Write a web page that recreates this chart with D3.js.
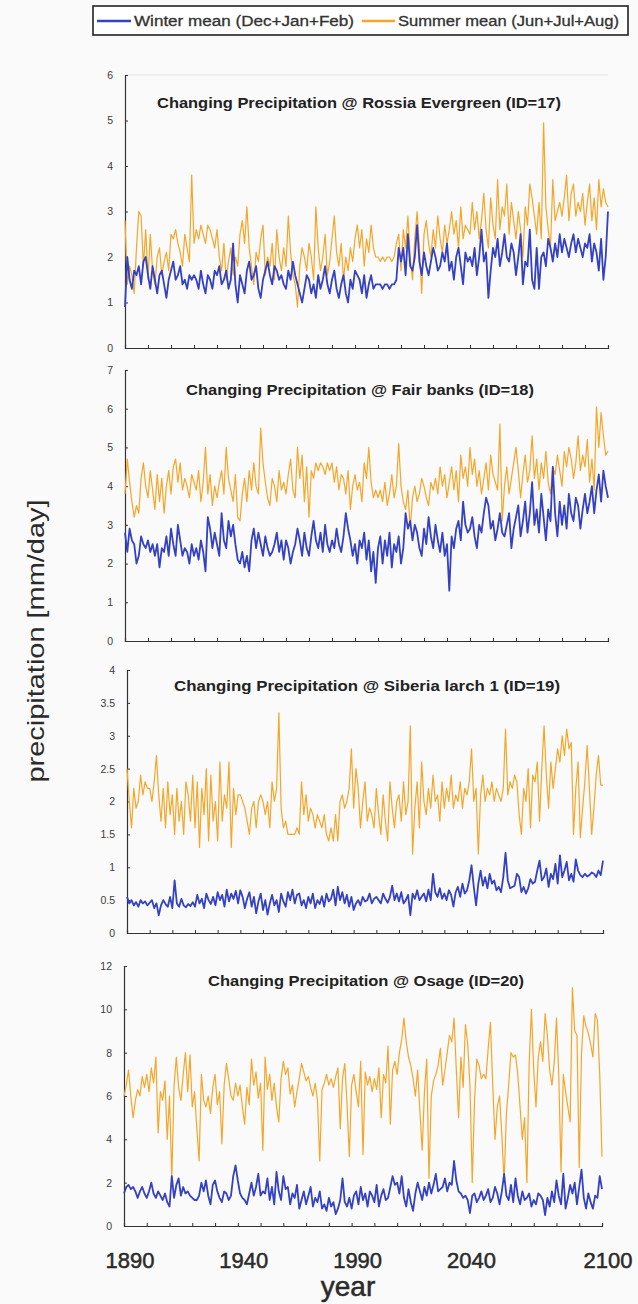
<!DOCTYPE html>
<html>
<head>
<meta charset="utf-8">
<script src="https://cdn.jsdelivr.net/npm/d3@7"></script>
<style>
    body { margin: 0; background: #fafafa; }
    svg { display: block; font-family: "Liberation Sans", Arial, sans-serif; }
    .tick text { fill: #3a3a3a; font-size: 10.5px; }
    .domain, .tick line { stroke: #333; }
</style>
</head>
<body>
<div id="chart"></div>
<script>
// categories
var years = d3.range(1890, 2101);
var yearLabels = [1890, 1940, 1990, 2040, 2100];
var titles = [
    "Changing Precipitation @ Rossia Evergreen (ID=17)",
    "Changing Precipitation @ Fair banks (ID=18)",
    "Changing Precipitation @ Siberia larch  1 (ID=19)",
    "Changing Precipitation @ Osage (ID=20)"
];
var yMaxes = [6, 7, 4, 12];
var yTickSteps = [1, 1, 0.5, 2];

// Winter mean (Dec+Jan+Feb), one value a year 1890..2100
var winter17 = [
    0.9,2.0,1.5,1.3,1.7,1.6,1.8,1.4,1.9,2.0,
    1.6,1.3,1.8,1.5,1.2,1.6,1.7,1.4,1.1,1.5,
    1.7,1.9,1.5,1.6,1.8,1.4,1.5,1.3,1.6,1.5,
    1.6,1.5,1.3,1.7,1.4,1.2,1.6,1.5,1.3,1.7,
    1.6,1.8,1.4,1.5,1.7,1.3,1.5,2.3,1.4,1.0,
    1.6,1.4,1.2,1.7,1.9,1.5,1.6,1.8,1.3,1.1,
    1.5,1.7,1.9,1.6,1.4,1.8,1.7,1.5,1.6,1.4,
    1.3,1.7,1.5,1.9,1.6,1.4,1.2,1.0,1.3,1.6,
    1.5,1.2,1.4,1.1,1.6,1.3,1.5,1.8,1.4,1.2,
    1.5,1.7,1.3,1.1,1.4,1.6,1.2,1.0,1.5,1.3,
    1.7,1.6,1.5,1.2,1.6,1.1,1.4,1.6,1.3,1.4,
    1.4,1.4,1.3,1.4,1.4,1.3,1.4,1.4,1.5,2.2,
    1.9,2.2,1.6,2.5,1.8,1.7,2.0,2.7,1.9,1.6,
    2.1,1.8,1.6,1.9,2.2,2.0,1.7,1.8,2.1,1.9,
    2.3,1.7,1.9,1.5,2.0,2.2,1.8,1.4,2.1,1.9,
    2.0,1.8,2.2,1.6,2.0,2.6,1.9,2.1,1.1,1.7,
    2.2,2.0,2.4,1.8,2.1,2.5,2.0,1.9,2.3,2.1,
    1.6,2.0,2.5,1.4,1.9,1.8,2.6,1.5,1.3,2.2,
    1.3,2.0,2.1,1.8,2.4,2.2,1.9,2.3,2.0,2.5,
    2.1,2.4,2.2,2.0,2.3,2.5,2.1,2.4,2.2,2.0,
    2.3,2.2,2.5,1.9,2.3,2.1,1.7,2.4,1.5,2.0,
    3.0
];
var winter18 = [
    2.8,2.3,2.9,2.6,2.5,2.0,2.2,2.7,2.5,2.4,
    2.6,2.3,2.5,2.2,2.5,1.9,2.4,2.3,2.7,2.2,
    2.9,2.5,2.2,3.0,2.6,2.2,2.4,2.3,2.0,2.5,
    2.2,2.4,2.1,2.6,2.3,1.8,3.2,2.9,2.4,2.8,
    2.5,2.2,3.3,2.6,2.4,3.1,2.7,3.0,2.5,2.1,
    2.0,2.3,1.9,2.2,1.8,2.6,2.9,2.4,2.8,2.5,
    2.2,2.7,2.4,2.2,2.3,2.5,2.8,2.3,2.6,2.1,
    2.6,2.4,2.0,2.3,2.5,2.9,2.6,2.2,2.8,2.4,
    2.2,2.7,3.1,2.6,2.4,2.8,2.3,3.0,2.5,2.3,
    2.6,2.4,2.9,2.5,2.3,2.7,3.3,2.9,2.6,2.2,
    2.5,2.0,2.6,2.4,2.8,2.1,2.6,1.8,2.3,1.5,
    2.4,2.7,2.0,2.6,2.2,2.8,1.9,2.5,2.3,2.7,
    2.0,2.4,3.3,2.9,3.1,2.6,3.0,2.8,2.4,2.2,
    2.9,2.5,3.2,2.7,2.4,3.0,2.6,2.3,2.8,2.2,
    2.5,1.3,2.7,2.4,2.9,3.1,2.6,3.6,3.0,2.8,
    2.9,3.2,2.7,2.4,3.0,2.8,3.3,3.7,3.5,2.9,
    3.1,2.6,2.9,3.3,2.8,2.7,3.0,3.3,2.4,2.9,
    3.2,3.5,2.7,3.1,3.6,2.8,3.3,4.1,3.0,3.4,
    2.8,3.8,3.2,2.6,3.4,3.1,4.5,3.3,2.7,3.6,
    3.0,3.5,2.9,3.8,3.3,3.1,3.7,3.5,2.9,3.4,
    3.8,3.3,3.6,4.0,3.3,3.9,4.3,3.6,4.4,4.0,
    3.7
];
var winter19 = [
    0.55,0.45,0.5,0.42,0.47,0.4,0.5,0.45,0.48,0.42,
    0.46,0.5,0.38,0.45,0.27,0.42,0.5,0.44,0.4,0.55,
    0.38,0.8,0.45,0.4,0.52,0.42,0.39,0.44,0.41,0.47,
    0.4,0.58,0.45,0.52,0.38,0.6,0.5,0.44,0.55,0.42,
    0.62,0.5,0.58,0.4,0.66,0.48,0.6,0.52,0.64,0.45,
    0.65,0.55,0.38,0.52,0.62,0.4,0.55,0.3,0.48,0.6,
    0.35,0.5,0.28,0.45,0.58,0.42,0.5,0.32,0.6,0.48,
    0.4,0.62,0.5,0.66,0.45,0.58,0.6,0.42,0.5,0.38,
    0.55,0.45,0.6,0.38,0.5,0.44,0.56,0.4,0.6,0.48,
    0.52,0.66,0.42,0.7,0.5,0.62,0.45,0.58,0.4,0.55,
    0.35,0.45,0.5,0.42,0.55,0.48,0.5,0.6,0.45,0.52,
    0.55,0.5,0.45,0.6,0.52,0.46,0.55,0.72,0.5,0.6,
    0.48,0.62,0.45,0.5,0.58,0.27,0.6,0.52,0.65,0.5,
    0.55,0.6,0.48,0.66,0.5,0.9,0.62,0.55,0.68,0.52,
    0.6,0.5,0.65,0.58,0.4,0.62,0.7,0.55,0.75,0.6,
    0.65,0.8,1.03,0.7,0.42,0.75,0.95,0.72,0.85,0.68,
    0.9,0.75,0.8,0.65,0.7,0.62,0.85,1.22,0.8,0.68,
    0.7,0.72,0.9,0.85,0.62,0.7,0.6,0.68,0.82,0.75,
    0.78,0.95,1.1,0.8,0.85,0.98,0.7,0.9,0.82,1.05,
    0.75,1.18,0.85,0.95,1.08,0.8,0.9,0.78,1.12,0.95,
    0.88,0.85,0.9,0.86,0.88,0.92,0.9,0.85,0.95,0.88,
    1.1
];
var winter20 = [
    1.5,1.8,1.9,1.7,1.8,1.6,1.3,1.6,1.8,1.5,
    1.3,1.6,2.0,1.5,1.3,1.6,1.4,1.2,1.5,1.1,
    0.9,2.3,1.3,1.9,2.2,1.4,1.8,1.5,1.6,1.4,
    1.3,1.2,1.2,1.4,2.0,1.6,2.1,1.4,1.0,1.9,
    2.1,1.6,1.3,1.1,1.6,1.5,1.2,1.4,2.3,2.8,
    2.1,1.5,1.3,1.2,1.0,1.5,2.0,1.4,1.8,2.4,
    1.4,1.6,1.5,2.2,1.2,1.8,1.0,2.5,1.6,1.2,
    2.3,1.7,1.8,1.0,1.5,1.3,1.9,0.8,1.2,1.6,
    1.0,1.4,1.8,0.9,1.3,1.1,1.6,0.8,1.0,0.7,
    1.3,0.9,1.1,0.55,0.8,1.2,2.2,1.1,0.9,1.3,
    0.8,1.4,1.6,1.0,1.8,1.2,1.5,0.9,1.6,1.4,
    1.1,1.9,0.9,1.4,1.7,1.2,1.3,1.8,2.3,1.9,
    2.0,1.5,2.3,1.3,0.9,1.7,1.1,0.7,1.5,2.0,
    1.6,1.2,1.8,1.4,2.0,1.5,1.9,2.4,1.6,1.7,
    1.8,2.2,1.6,2.0,1.9,3.0,2.1,1.6,1.5,1.3,
    1.4,1.2,0.6,1.4,1.5,1.1,1.3,1.6,1.2,1.4,
    1.7,1.1,1.3,1.8,1.5,1.0,1.6,2.4,1.4,1.2,
    1.9,1.1,2.2,1.4,1.0,1.6,1.2,1.3,1.5,0.9,
    1.2,1.0,1.5,1.4,1.2,0.5,1.3,0.9,1.6,1.1,
    2.1,1.4,1.0,2.4,0.8,1.3,1.9,1.5,2.0,1.0,
    1.8,2.6,1.3,0.8,1.5,1.1,0.8,1.4,1.3,2.3,
    1.7
];

// Summer mean (Jun+Jul+Aug)
var summer17 = [
    2.8,1.4,1.8,1.6,1.2,2.2,3.0,2.9,1.8,2.6,
    1.5,2.5,1.7,1.4,2.0,2.2,1.6,1.9,2.1,1.7,
    2.5,2.4,2.6,2.3,2.1,1.8,2.5,2.2,1.9,3.8,
    2.3,2.6,2.4,2.7,2.5,2.3,2.7,2.6,2.4,2.2,
    2.6,2.0,1.7,2.3,1.5,1.9,2.2,1.6,2.0,1.8,
    2.5,2.8,2.3,3.1,2.2,1.8,1.4,2.1,1.9,2.4,
    2.7,1.6,2.0,1.8,2.3,1.5,2.6,2.0,1.7,2.2,
    1.8,2.9,2.1,1.6,1.4,0.9,1.8,2.2,2.0,1.7,
    2.3,2.0,1.5,3.1,2.2,1.7,2.0,2.5,1.6,1.9,
    2.4,2.9,2.1,1.8,2.3,1.5,2.0,1.7,2.2,1.9,
    2.4,2.7,2.2,2.6,1.8,2.4,2.1,2.7,2.2,2.0,
    2.0,1.9,2.0,1.9,2.0,2.0,1.9,2.0,2.3,2.5,
    1.7,2.6,2.2,2.9,2.0,1.5,2.4,3.0,2.2,1.2,
    2.5,2.8,2.3,2.0,2.6,2.2,2.9,2.4,2.1,2.7,
    2.3,2.6,3.0,2.5,2.8,2.2,3.1,2.4,2.7,2.6,
    2.5,3.2,2.6,3.0,2.4,2.8,3.4,2.6,2.2,3.3,
    2.7,2.4,3.7,2.6,3.1,2.9,3.6,2.5,3.2,2.8,
    2.4,3.0,2.6,2.0,3.1,2.7,3.6,3.3,2.9,2.5,
    3.2,2.4,4.95,3.1,2.6,2.2,3.7,2.8,3.0,3.2,
    2.9,3.3,3.8,2.8,3.4,3.6,2.9,3.2,3.0,3.4,
    2.7,3.2,3.6,2.8,3.3,2.6,3.7,3.1,3.5,3.2,
    3.1
];
var summer18 = [
    3.8,4.7,4.1,3.6,3.2,3.5,3.3,4.2,4.6,4.0,
    3.7,4.4,3.9,3.4,4.3,3.6,4.2,3.3,4.0,4.4,
    3.8,4.5,4.7,4.1,4.6,3.9,4.2,4.0,3.7,4.3,
    4.1,3.9,4.4,3.6,4.1,5.0,3.8,4.3,3.5,4.0,
    3.7,4.1,4.4,3.8,5.0,4.2,3.9,3.6,4.3,3.2,
    3.1,3.8,4.2,3.6,4.4,3.9,4.6,4.0,3.8,5.5,
    4.6,4.1,3.7,3.5,4.2,4.0,3.6,4.4,3.9,4.1,
    3.8,4.3,4.7,3.9,3.7,5.0,4.2,4.8,3.6,4.5,
    3.2,4.4,4.2,4.6,4.4,4.6,4.5,4.3,4.6,4.4,
    4.6,4.1,4.5,3.9,4.3,4.2,3.8,4.4,3.4,4.0,
    4.3,3.9,4.1,3.6,4.6,4.2,5.0,4.1,3.7,3.9,
    3.7,3.9,3.6,4.1,3.5,3.8,4.3,3.7,4.0,5.1,
    4.0,3.6,3.4,3.9,2.9,3.7,4.0,3.6,3.8,4.2,
    4.0,3.7,3.5,4.1,3.9,4.2,3.8,4.5,4.0,4.3,
    3.7,4.1,4.5,3.9,4.4,3.6,4.8,4.2,4.5,4.0,
    5.0,4.3,4.7,4.0,4.4,3.8,4.2,4.6,3.9,4.8,
    4.3,4.1,3.9,5.6,3.1,4.0,4.5,3.8,4.2,4.6,
    5.0,4.4,3.7,4.3,4.8,4.1,4.4,5.3,4.2,4.7,
    3.9,4.6,4.2,4.9,4.1,3.8,4.5,4.3,4.8,4.4,
    4.0,4.9,4.5,5.0,4.7,4.2,4.6,5.3,4.4,4.8,
    4.5,5.2,4.1,4.7,3.9,6.05,5.0,5.9,5.3,4.8,
    4.9
];
var summer19 = [
    2.5,2.0,1.6,2.2,1.9,2.0,2.4,2.1,2.3,2.2,
    2.2,2.0,2.3,2.7,2.1,1.7,2.2,1.6,2.3,1.8,
    2.1,1.5,2.2,1.7,2.0,1.5,2.3,2.1,1.7,2.4,
    1.6,2.3,1.3,2.2,1.8,2.5,1.4,2.4,1.7,2.0,
    1.4,2.6,1.7,2.1,1.9,2.6,1.3,2.2,1.8,2.1,
    2.1,2.0,1.9,1.7,1.5,1.9,2.0,1.6,2.0,2.1,
    2.0,1.8,2.0,1.6,2.3,2.0,2.2,3.35,1.9,1.6,
    1.7,1.5,1.5,1.5,1.5,1.6,1.5,2.3,1.8,2.1,
    1.7,1.9,1.8,1.6,1.8,1.7,1.6,1.8,1.5,1.4,
    1.6,1.4,1.8,1.4,2.0,2.1,1.9,2.0,2.2,2.8,
    1.9,2.5,2.2,1.6,2.0,2.3,1.7,1.9,1.8,1.6,
    2.2,1.8,1.5,2.1,1.7,1.4,2.3,1.9,1.6,2.0,
    2.1,1.7,2.3,1.8,2.0,3.15,1.2,1.9,2.3,1.6,
    2.6,2.0,1.8,2.2,1.9,2.4,2.0,2.1,1.7,2.3,
    1.9,2.2,2.0,2.4,1.9,2.1,2.0,2.3,1.9,2.2,
    2.1,2.3,2.8,2.0,2.2,1.2,2.1,2.4,2.0,2.2,
    2.1,2.3,2.0,2.2,2.1,2.0,2.2,3.1,2.1,2.3,
    2.2,2.4,2.3,1.8,1.5,2.2,2.0,2.5,1.6,2.4,
    2.3,2.6,1.7,2.5,3.15,2.4,1.9,2.6,2.2,2.5,
    2.8,2.6,3.0,2.7,3.1,2.8,2.9,1.5,2.2,2.6,
    1.45,1.9,2.3,2.85,2.2,1.5,1.9,2.4,2.7,2.25,
    2.25
];
var summer20 = [
    6.0,6.5,7.2,6.0,5.0,5.8,6.3,6.0,6.9,6.4,
    7.0,6.2,7.3,6.6,7.8,4.3,6.2,5.8,6.7,4.0,
    6.0,2.2,6.5,7.8,6.4,5.8,7.0,8.0,6.2,7.9,
    5.5,6.2,4.5,3.0,7.0,5.8,5.5,6.0,5.2,6.4,
    7.0,5.6,6.2,3.8,6.5,7.5,6.8,6.0,5.8,6.6,
    6.0,6.5,5.5,4.7,6.4,5.6,7.7,6.5,7.1,5.9,
    6.6,3.5,7.8,6.3,7.0,5.8,6.6,5.5,4.8,6.8,
    7.6,7.0,7.3,6.1,6.5,5.5,6.2,6.8,7.5,7.1,
    6.7,6.9,6.4,6.0,6.6,5.8,3.0,6.3,6.6,7.0,
    6.5,6.8,6.4,6.9,7.3,4.5,6.8,7.5,5.6,3.2,
    6.5,7.0,6.2,5.5,7.6,3.3,7.1,6.5,6.9,6.2,
    6.8,6.3,7.3,5.0,7.0,6.6,8.3,4.7,7.2,7.6,
    7.0,8.0,8.6,9.6,8.5,7.8,7.4,6.8,6.0,7.2,
    5.3,3.5,6.2,7.7,2.2,6.0,6.7,7.0,7.4,8.2,
    6.5,7.2,8.0,8.8,8.5,9.6,7.2,5.0,7.8,6.4,
    9.3,8.4,6.5,2.0,5.8,7.7,7.4,6.8,7.0,6.8,
    8.2,9.4,6.5,4.0,5.5,6.0,4.2,2.0,5.2,6.5,
    8.0,7.8,7.9,7.0,5.5,4.0,5.0,2.0,7.5,10.0,
    7.2,5.5,7.8,8.5,7.6,9.8,8.8,7.2,6.5,7.5,
    9.6,7.0,2.5,7.0,6.2,5.5,4.8,11.0,9.0,8.8,
    2.7,8.0,9.7,9.2,8.9,8.4,7.8,9.8,9.5,7.0,
    3.2
];

var winterSeries = [winter17, winter18, winter19, winter20];
var summerSeries = [summer17, summer18, summer19, summer20];

// Layout of the four stacked panels
var panels = [
    {left: 125, right: 608, top: 75, bottom: 348, titleY: 108, titleX: 359, titleW: 404},
    {left: 125, right: 608, top: 370, bottom: 641, titleY: 395, titleX: 360, titleW: 348},
    {left: 127, right: 603, top: 670, bottom: 933, titleY: 691, titleX: 367, titleW: 386},
    {left: 124, right: 602, top: 966, bottom: 1226, titleY: 986, titleX: 366, titleW: 316}
];

var winterColor = "#3341c2",
    summerColor = "#f4a629";

var svg = d3.select("#chart").append("svg")
    .attr("width", 638)
    .attr("height", 1304);

function drawPanel(i) {
    var p = panels[i];

    var x = d3.scaleLinear().domain([1890, 2100]).range([p.left, p.right]);
    var y = d3.scaleLinear().domain([0, yMaxes[i]]).range([p.bottom, p.top]);

    var g = svg.append("g");

    // panel 1 has a faint plot-area top edge
    if (i === 0) {
        g.append("line")
            .attr("x1", p.left).attr("x2", p.right)
            .attr("y1", p.top).attr("y2", p.top)
            .attr("stroke", "#e2e2e2");
    }

    var yTicks = d3.range(0, yMaxes[i] + 0.001, yTickSteps[i]);
    g.append("g")
        .attr("transform", "translate(" + p.left + ",0)")
        .call(d3.axisLeft(y).tickValues(yTicks).tickSize(-3).tickPadding(12).tickFormat(d3.format("")))
        .call(function (a) { a.selectAll(".domain").attr("stroke-width", 1.2); });

    g.append("g")
        .attr("transform", "translate(0," + p.bottom + ")")
        .call(d3.axisBottom(x).tickValues(d3.range(1890, 2101, 10)).tickSize(-3).tickFormat(""))
        .call(function (a) { a.selectAll(".domain").attr("stroke-width", 1.2); });

    var line = d3.line()
        .x(function (d, k) { return x(years[k]); })
        .y(function (d) { return y(d); });

    g.append("path")
        .datum(summerSeries[i])
        .attr("fill", "none")
        .attr("stroke", summerColor)
        .attr("stroke-width", 1.2)
        .attr("stroke-linejoin", "round")
        .attr("d", line);

    g.append("path")
        .datum(winterSeries[i])
        .attr("fill", "none")
        .attr("stroke", winterColor)
        .attr("stroke-width", 1.8)
        .attr("stroke-linejoin", "round")
        .attr("d", line);

    g.append("text")
        .attr("x", p.titleX)
        .attr("y", p.titleY)
        .attr("text-anchor", "middle")
        .attr("textLength", p.titleW)
        .attr("lengthAdjust", "spacingAndGlyphs")
        .attr("fill", "#222")
        .attr("font-size", 14)
        .attr("font-weight", "bold")
        .text(titles[i]);

    return x;
}

var xScales = [];
for (var i = 0; i < panels.length; i++) {
    xScales.push(drawPanel(i));
}

// year labels under the last panel
var xLast = xScales[3];
svg.append("g").selectAll("text")
    .data(yearLabels)
    .enter()
    .append("text")
    .attr("x", function (d) { return xLast(d) + 6; })
    .attr("y", 1268)
    .attr("text-anchor", "middle")
    .attr("font-size", 22)
    .attr("fill", "#2a2a2a")
    .attr("stroke", "#2a2a2a")
    .attr("stroke-width", 0.5)
    .text(function (d) { return d; });

svg.append("text")
    .attr("x", 348)
    .attr("y", 1296)
    .attr("text-anchor", "middle")
    .attr("font-size", 28)
    .attr("fill", "#2a2a2a")
    .attr("stroke", "#2a2a2a")
    .attr("stroke-width", 0.5)
    .text("year");

svg.append("text")
    .attr("transform", "translate(44,641) rotate(-90)")
    .attr("text-anchor", "middle")
    .attr("font-size", 24)
    .attr("textLength", 283)
    .attr("lengthAdjust", "spacingAndGlyphs")
    .attr("fill", "#2a2a2a")
    .text("precipitation [mm/day]");

// legend box
var legend = svg.append("g");
legend.append("rect")
    .attr("x", 93).attr("y", 6)
    .attr("width", 535).attr("height", 29)
    .attr("fill", "#fff")
    .attr("stroke", "#222")
    .attr("stroke-width", 1.6);

var legendItems = [
    {label: "Winter mean (Dec+Jan+Feb)", color: winterColor, x1: 97, x2: 131, tx: 134, tw: 220},
    {label: "Summer mean (Jun+Jul+Aug)", color: summerColor, x1: 362, x2: 395, tx: 398, tw: 221}
];
legendItems.forEach(function (d) {
    legend.append("line")
        .attr("x1", d.x1).attr("x2", d.x2)
        .attr("y1", 21).attr("y2", 21)
        .attr("stroke", d.color)
        .attr("stroke-width", 2.5);
    legend.append("text")
        .attr("x", d.tx)
        .attr("y", 26)
        .attr("font-size", 14)
        .attr("textLength", d.tw)
        .attr("lengthAdjust", "spacingAndGlyphs")
        .attr("fill", "#333")
        .attr("stroke", "#333")
        .attr("stroke-width", 0.3)
        .text(d.label);
});
</script>
</body>
</html>
